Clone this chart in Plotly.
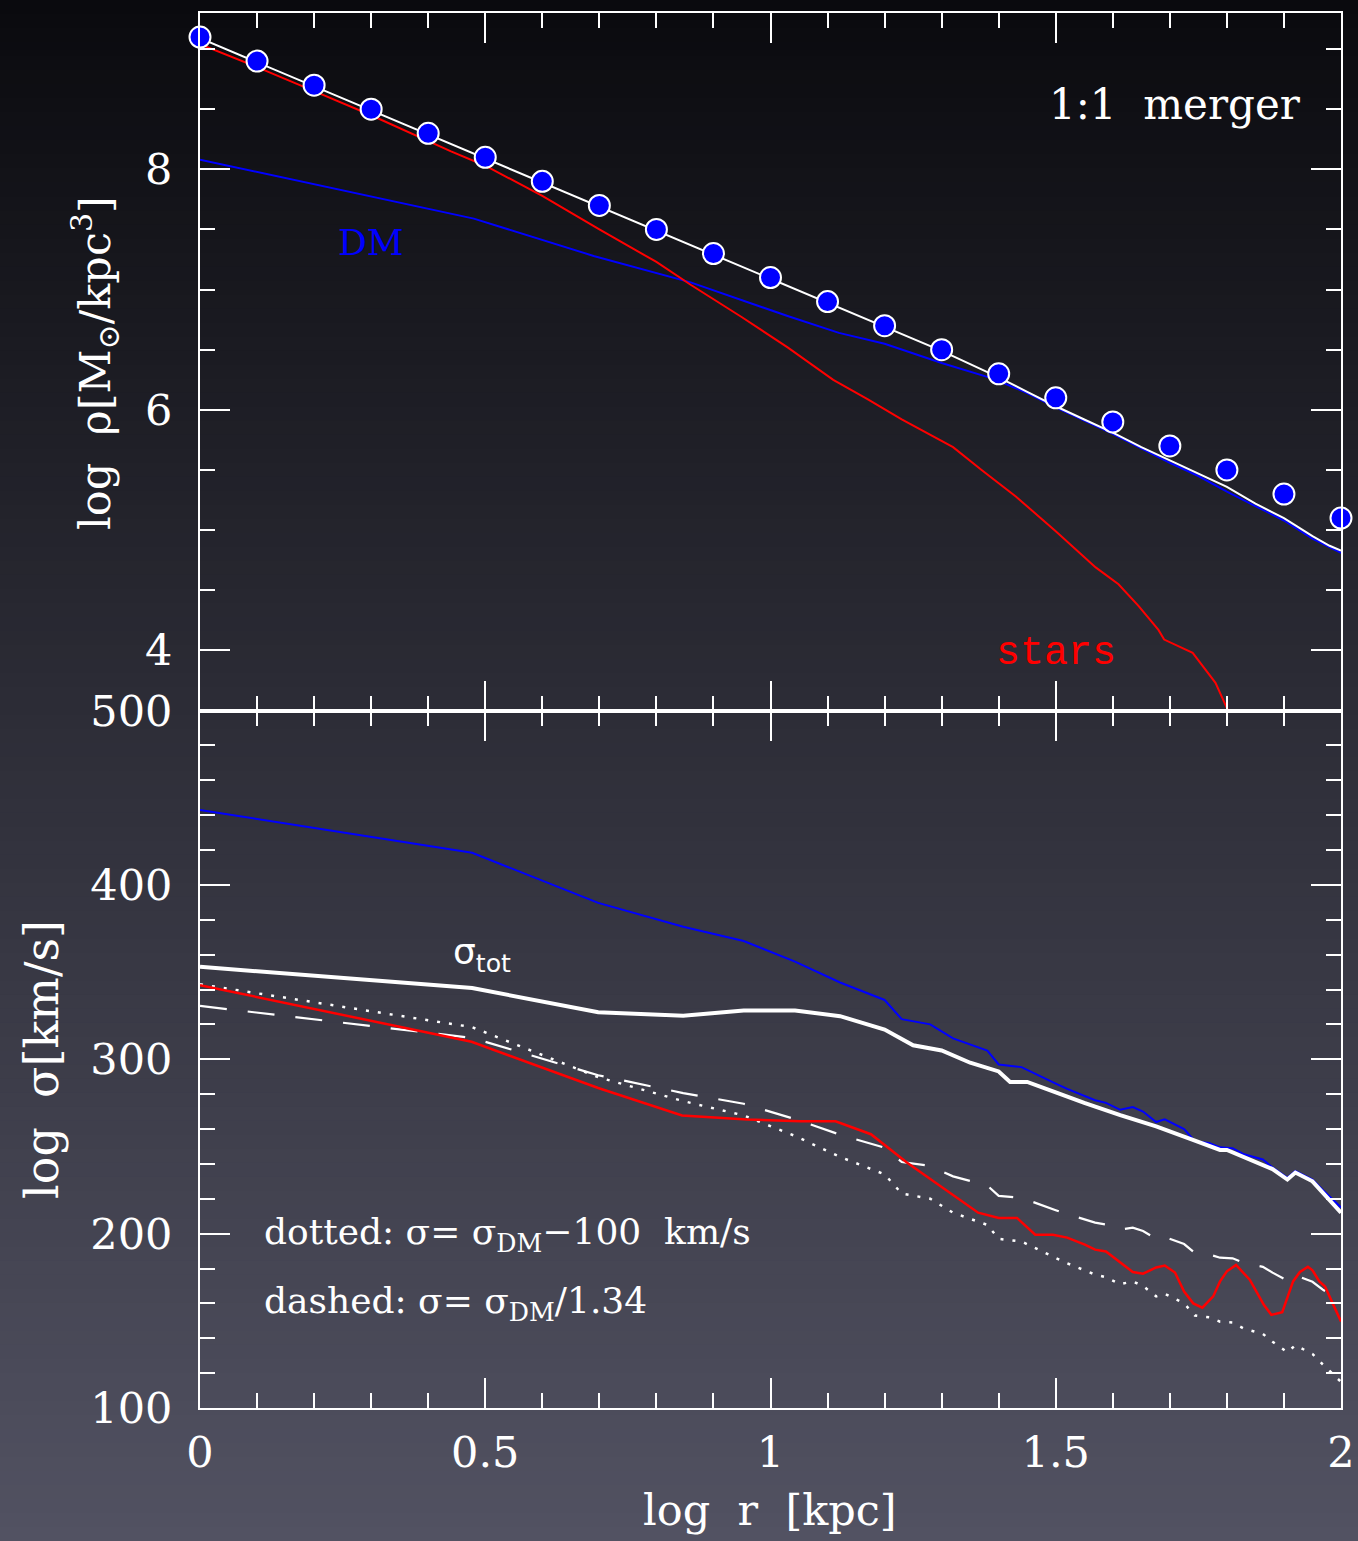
import plotly.graph_objects as go
from plotly.subplots import make_subplots

# ---------------- data ----------------
# top panel: log density profiles
r_pts = [0.0, 0.1, 0.2, 0.3, 0.4, 0.5, 0.6, 0.7, 0.8, 0.9, 1.0,
         1.1, 1.2, 1.3, 1.4, 1.5, 1.6, 1.7, 1.8, 1.9, 2.0]
rho_pts = [9.1, 8.9, 8.7, 8.5, 8.3, 8.1, 7.9, 7.7, 7.5, 7.3, 7.1,
           6.9, 6.7, 6.5, 6.3, 6.1, 5.9, 5.7, 5.5, 5.3, 5.1]

r_tot = [0.0, 0.1, 0.2, 0.3, 0.4, 0.5, 0.6, 0.7, 0.8, 0.9, 1.0, 1.1, 1.2, 1.3,
         1.35, 1.4, 1.45, 1.5, 1.55, 1.6, 1.65, 1.7, 1.75, 1.8, 1.85, 1.9, 1.95, 1.98, 2.0]
rho_tot = [9.09, 8.89, 8.69, 8.49, 8.29, 8.09, 7.89, 7.69, 7.49, 7.29, 7.09, 6.89, 6.69, 6.49,
           6.38, 6.27, 6.15, 6.03, 5.92, 5.81, 5.69, 5.58, 5.47, 5.36, 5.22, 5.10, 4.95, 4.87, 4.83]

r_dm = [0.0, 0.48, 0.69, 0.86, 1.03, 1.12, 1.2, 1.3, 1.39, 1.45, 1.5, 1.55,
        1.6, 1.65, 1.7, 1.75, 1.8, 1.85, 1.9, 1.95, 2.0]
rho_dm = [8.08, 7.59, 7.28, 7.06, 6.78, 6.64, 6.55, 6.39, 6.26, 6.14, 6.02, 5.91,
          5.80, 5.68, 5.56, 5.45, 5.32, 5.20, 5.08, 4.93, 4.81]

r_st = [0.0, 0.1, 0.2, 0.3, 0.44, 0.5, 0.6, 0.7, 0.8, 0.86, 0.95, 1.03, 1.11, 1.17,
        1.23, 1.32, 1.37, 1.43, 1.5, 1.57, 1.61, 1.645, 1.68, 1.69, 1.74, 1.78, 1.80, 1.81]
rho_st = [9.04, 8.85, 8.65, 8.45, 8.15, 8.03, 7.78, 7.50, 7.23, 7.04, 6.77, 6.52, 6.25, 6.09,
          5.92, 5.69, 5.50, 5.28, 4.99, 4.69, 4.55, 4.37, 4.17, 4.09, 3.98, 3.73, 3.52, 3.45]

# bottom panel: velocity dispersion profiles [km/s]
r_sdm = [0.0, 0.477, 0.698, 0.847, 0.953, 1.043, 1.122, 1.2, 1.23, 1.28, 1.32, 1.38,
         1.4, 1.44, 1.5, 1.52, 1.569, 1.588, 1.613, 1.635, 1.653, 1.676, 1.691, 1.725,
         1.744, 1.769, 1.788, 1.81, 1.83, 1.863, 1.88, 1.906, 1.92, 1.95, 1.968, 2.0]
sig_dm = [443, 418.4, 389.7, 376, 367.8, 356, 344, 334, 323, 320, 312, 305,
          297, 295.5, 286, 283, 276.5, 275, 271, 272.6, 270, 264, 265.5, 260,
          253, 252, 249.5, 249, 245.5, 242.5, 238, 232, 236, 231, 225, 215]

r_stot = [0.0, 0.477, 0.698, 0.847, 0.953, 1.043, 1.122, 1.2, 1.25, 1.3, 1.35, 1.4,
          1.42, 1.45, 1.5, 1.52, 1.55, 1.613, 1.676, 1.738, 1.788, 1.80, 1.83, 1.88,
          1.906, 1.92, 1.95, 1.968, 2.0]
sig_tot = [353, 340.8, 327, 325, 328, 328, 324.7, 317, 308, 305, 298, 293,
           287, 287, 281, 278.5, 275, 268, 261.5, 254, 248, 248, 244, 237,
           231, 235, 230, 223.5, 212]

r_sst = [0.0, 0.476, 0.698, 0.845, 0.959, 1.052, 1.114, 1.176, 1.239, 1.364, 1.40, 1.432,
         1.464, 1.495, 1.52, 1.551, 1.569, 1.588, 1.635, 1.653, 1.676, 1.691, 1.709, 1.725,
         1.741, 1.757, 1.776, 1.788, 1.80, 1.816, 1.84, 1.865, 1.878, 1.897, 1.916, 1.928,
         1.942, 1.95, 1.962, 1.972, 1.984, 2.0]
sig_st = [342.5, 310, 283.5, 267.8, 265.5, 264.4, 264.4, 257, 240.8, 212, 209, 209,
          199.4, 199.4, 197.7, 193.7, 190.8, 189.8, 178, 177, 180.6, 181.7, 177.7, 166.8,
          160, 157.5, 164, 172.6, 178.4, 182, 173.6, 159, 153.4, 155, 172.6, 178,
          181, 179, 172.6, 169.7, 161, 149.6]

# the two comparison curves, as defined in the chart's own legend text
sig_dotted = [s - 100 for s in sig_dm]
sig_dashed = [s / 1.34 for s in sig_dm]

# ---------------- figure ----------------
W, H = 1358, 1541
L, R, T, B = 200, 17, 13, 133
PW, PH = W - L - R, H - T - B

fig = make_subplots(rows=2, cols=1, vertical_spacing=0)

BLUE = '#0000ff'
RED = '#ff0000'
WHITE = '#ffffff'

fig.add_trace(go.Scatter(x=r_dm, y=rho_dm, mode='lines', line=dict(color=BLUE, width=2)), row=1, col=1)
fig.add_trace(go.Scatter(x=r_st, y=rho_st, mode='lines', line=dict(color=RED, width=2)), row=1, col=1)
fig.add_trace(go.Scatter(x=r_tot, y=rho_tot, mode='lines', line=dict(color=WHITE, width=2)), row=1, col=1)
fig.add_trace(go.Scatter(x=r_pts, y=rho_pts, mode='markers', cliponaxis=False,
                         marker=dict(color=BLUE, size=21, line=dict(color=WHITE, width=2))), row=1, col=1)

fig.add_trace(go.Scatter(x=r_sdm, y=sig_dotted, mode='lines',
                         line=dict(color=WHITE, width=2.5, dash='3px,9px')), row=2, col=1)
fig.add_trace(go.Scatter(x=r_sdm, y=sig_dashed, mode='lines',
                         line=dict(color=WHITE, width=2.2, dash='27px,21px')), row=2, col=1)
fig.add_trace(go.Scatter(x=r_sdm, y=sig_dm, mode='lines', line=dict(color=BLUE, width=2)), row=2, col=1)
fig.add_trace(go.Scatter(x=r_sst, y=sig_st, mode='lines', line=dict(color=RED, width=2.5)), row=2, col=1)
fig.add_trace(go.Scatter(x=r_stot, y=sig_tot, mode='lines', line=dict(color=WHITE, width=4)), row=2, col=1)

TICKFONT = dict(family='DejaVu Serif', size=43, color=WHITE)
axis_common = dict(showline=True, linecolor=WHITE, linewidth=2, mirror='ticks',
                   ticks='inside', ticklen=30, tickwidth=2, tickcolor=WHITE,
                   showgrid=False, zeroline=False, tickfont=TICKFONT, automargin=False)

fig.update_xaxes(range=[0, 2], dtick=0.5, tick0=0,
                 minor=dict(dtick=0.1, tick0=0, ticks='inside', ticklen=15, tickwidth=2,
                            tickcolor=WHITE, showgrid=False),
                 **axis_common)
fig.update_xaxes(showticklabels=False, row=1, col=1)
fig.update_xaxes(showticklabels=True, ticklabelstandoff=5, row=2, col=1)

fig.update_yaxes(range=[3.5, 9.3], dtick=2, tick0=0,
                 minor=dict(dtick=0.5, tick0=0, ticks='inside', ticklen=15, tickwidth=2,
                            tickcolor=WHITE, showgrid=False),
                 ticklabelstandoff=17, row=1, col=1, **axis_common)
fig.update_yaxes(range=[100, 500], dtick=100, tick0=0,
                 minor=dict(dtick=20, tick0=0, ticks='inside', ticklen=15, tickwidth=2,
                            tickcolor=WHITE, showgrid=False),
                 ticklabelstandoff=17, row=2, col=1, **axis_common)

# background gradient (vertical)
stops = [(0, (10, 10, 14)), (700, (44, 44, 54)), (1541, (82, 82, 98))]


def col_at(py):
    for (p0, c0), (p1, c1) in zip(stops[:-1], stops[1:]):
        if p0 <= py <= p1:
            t = (py - p0) / (p1 - p0)
            return tuple(int(round(a + (b - a) * t)) for a, b in zip(c0, c1))
    return stops[-1][1]


N = 110
for i in range(N):
    p0 = i * H / N
    p1 = (i + 1) * H / N + 1
    c = col_at((p0 + p1) / 2)
    fig.add_shape(type='rect', xref='paper', yref='paper', layer='below',
                  x0=-0.3, x1=1.1, y0=(H - B - p1) / PH, y1=(H - B - p0) / PH,
                  line=dict(width=0), fillcolor='rgb(%d,%d,%d)' % c)


def px_x(px):
    return (px - L) / PW


def px_y(py):
    return (H - B - py) / PH


ann = [
    dict(text='1:1  merger', x=1.933, y=8.54, xref='x', yref='y', xanchor='right', yanchor='middle',
         font=dict(family='DejaVu Serif', size=42, color=WHITE)),
    dict(text='DM', x=0.30, y=7.39, xref='x', yref='y', xanchor='center', yanchor='middle',
         font=dict(family='DejaVu Serif', size=36, color=BLUE)),
    dict(text='stars', x=1.50, y=3.97, xref='x', yref='y', xanchor='center', yanchor='middle',
         font=dict(family='Liberation Mono', size=40, color=RED)),
    dict(text='σ<sub>tot</sub>', x=0.44, y=360, xref='x2', yref='y2', xanchor='left', yanchor='middle',
         font=dict(family='DejaVu Sans', size=36, color=WHITE)),
    dict(text='dotted: σ= σ<sub>DM</sub>−100  km/s', x=0.1087, y=199.5, xref='x2', yref='y2',
         xanchor='left', yanchor='middle', font=dict(family='DejaVu Serif', size=36, color=WHITE)),
    dict(text='dashed: σ= σ<sub>DM</sub>/1.34', x=0.1087, y=160, xref='x2', yref='y2',
         xanchor='left', yanchor='middle', font=dict(family='DejaVu Serif', size=36, color=WHITE)),
    dict(text='log  ρ[M<sub>⊙</sub>/kpc<sup>3</sup>]', x=px_x(95), y=px_y(363), xref='paper', yref='paper',
         textangle=-90, xanchor='center', yanchor='middle',
         font=dict(family='DejaVu Serif', size=43, color=WHITE)),
    dict(text='log  σ[km/s]', x=px_x(42), y=px_y(1060), xref='paper', yref='paper',
         textangle=-90, xanchor='center', yanchor='middle',
         font=dict(family='DejaVu Serif', size=46, color=WHITE)),
    dict(text='log  r  [kpc]', x=px_x(770), y=px_y(1510), xref='paper', yref='paper',
         xanchor='center', yanchor='middle',
         font=dict(family='DejaVu Serif', size=43, color=WHITE)),
]
for a in ann:
    a['showarrow'] = False

fig.update_layout(width=W, height=H, margin=dict(l=L, r=R, t=T, b=B, pad=0, autoexpand=False),
                  paper_bgcolor='rgb(10,10,14)', plot_bgcolor='rgba(0,0,0,0)',
                  showlegend=False, annotations=ann)

fig.write_html('out.html', config={'displayModeBar': False},
               post_script="document.body.style.margin='0';document.body.style.padding='0';"
                           "document.body.style.background='rgb(10,10,14)';")
